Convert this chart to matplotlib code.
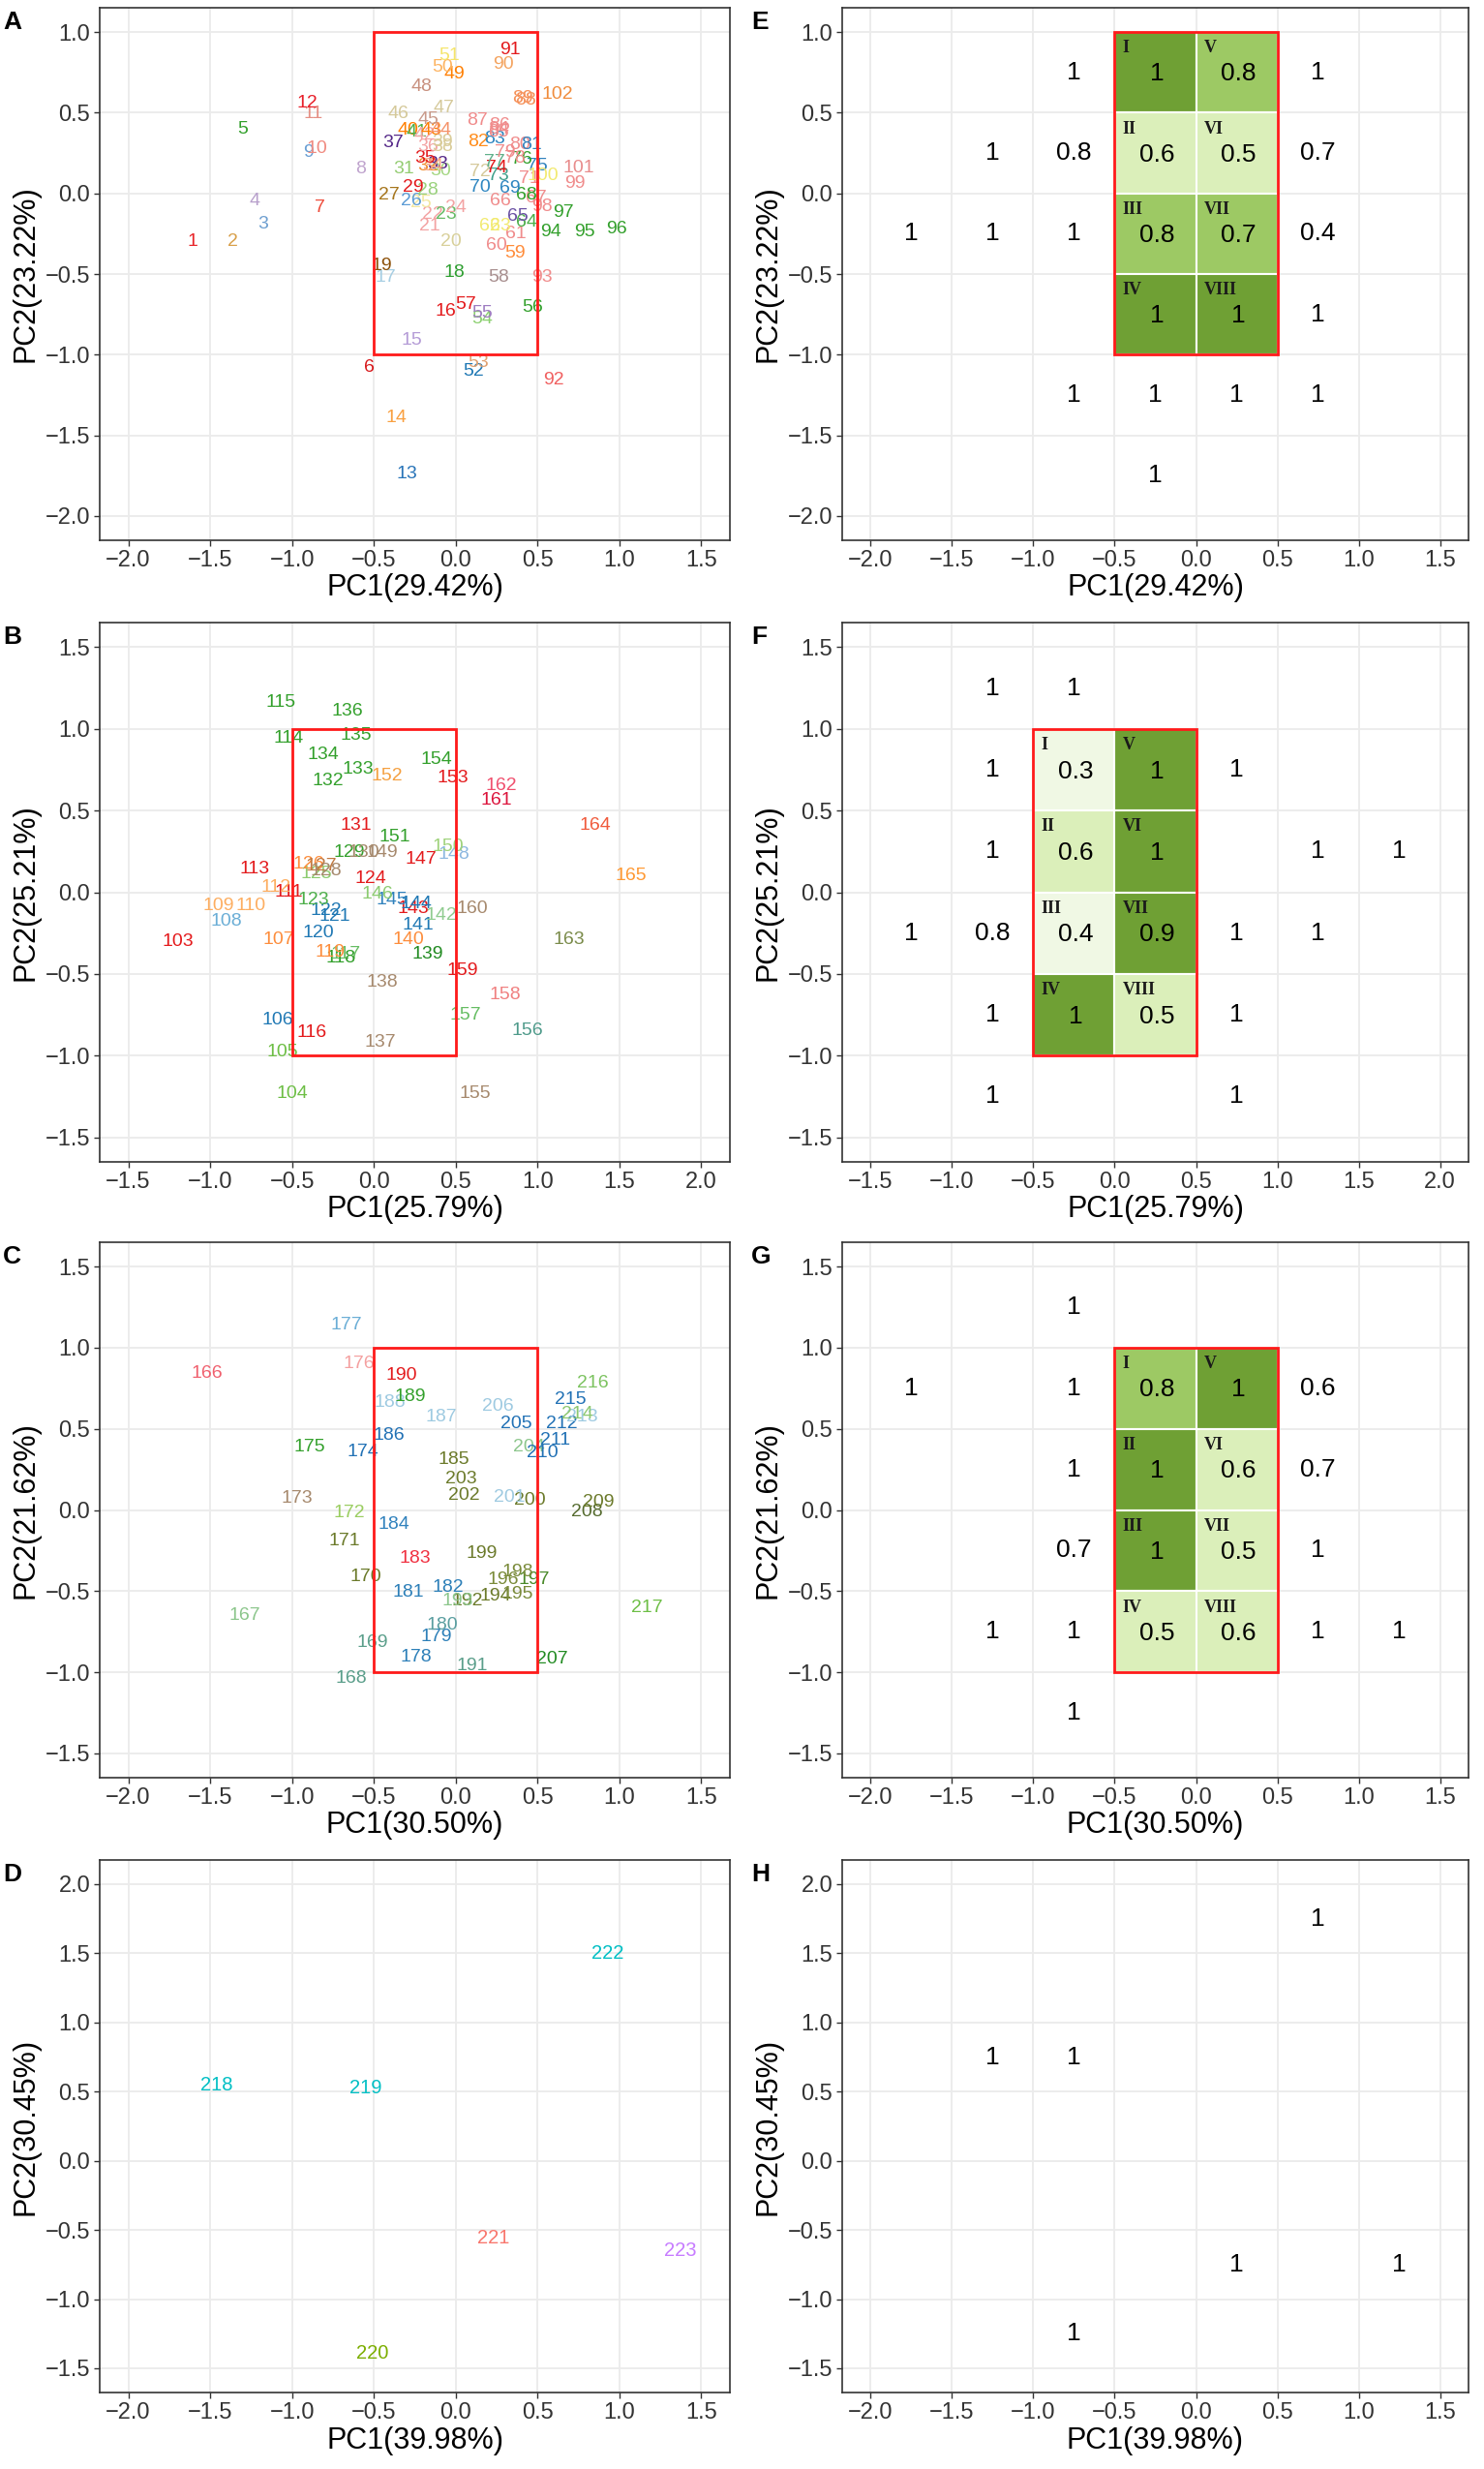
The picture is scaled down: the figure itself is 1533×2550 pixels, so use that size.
import matplotlib
matplotlib.use("Agg")
import matplotlib.pyplot as plt
from matplotlib.patches import Rectangle

plt.rcParams['font.family'] = ['Liberation Sans', 'DejaVu Sans']

# ---------------- data: PCA label positions (left column) ----------------
labels_a = list(range(1, 103))
x_a = [-1.61, -1.36, -1.18, -1.23, -1.30, -0.53, -0.83, -0.58, -0.90, -0.85,
       -0.87, -0.91, -0.30, -0.36, -0.27, -0.06, -0.43, -0.01, -0.45, -0.03,
       -0.16, -0.14, -0.06, 0.00, -0.21, -0.27, -0.41, -0.17, -0.26, -0.09,
       -0.32, -0.17, -0.11, -0.14, -0.19, -0.17, -0.38, -0.08, -0.08, -0.29,
       -0.24, -0.19, -0.15, -0.09, -0.17, -0.35, -0.07, -0.21, -0.01, -0.08,
       -0.04, 0.11, 0.14, 0.16, 0.16, 0.47, 0.06, 0.26, 0.36, 0.25,
       0.37, 0.21, 0.27, 0.43, 0.38, 0.27, 0.49, 0.43, 0.33, 0.15,
       0.45, 0.15, 0.26, 0.25, 0.50, 0.40, 0.24, 0.36, 0.30, 0.39,
       0.46, 0.14, 0.24, 0.26, 0.26, 0.27, 0.13, 0.43, 0.41, 0.29,
       0.33, 0.60, 0.53, 0.58, 0.79, 0.98, 0.66, 0.53, 0.73, 0.53,
       0.75, 0.62]
y_a = [-0.30, -0.30, -0.19, -0.05, 0.40, -1.08, -0.09, 0.15, 0.25, 0.28,
       0.49, 0.56, -1.74, -1.39, -0.91, -0.73, -0.52, -0.49, -0.45, -0.30,
       -0.20, -0.13, -0.13, -0.09, -0.06, -0.05, -0.01, 0.02, 0.04, 0.14,
       0.15, 0.17, 0.18, 0.17, 0.22, 0.29, 0.31, 0.29, 0.32, 0.39,
       0.38, 0.36, 0.39, 0.39, 0.46, 0.49, 0.53, 0.66, 0.74, 0.78,
       0.85, -1.10, -1.05, -0.78, -0.74, -0.71, -0.69, -0.52, -0.37, -0.32,
       -0.25, -0.20, -0.20, -0.18, -0.14, -0.05, -0.03, -0.01, 0.03, 0.04,
       0.09, 0.13, 0.11, 0.16, 0.17, 0.21, 0.19, 0.22, 0.25, 0.30,
       0.30, 0.32, 0.34, 0.40, 0.38, 0.42, 0.45, 0.58, 0.59, 0.80,
       0.89, -1.16, -0.52, -0.24, -0.24, -0.22, -0.12, -0.08, 0.06, 0.11,
       0.16, 0.61]
col_a = ['#E8262A', '#D8A04A', '#6E9FD0', '#B79FCB', '#33A02C', '#D7191C', '#EE4B3A', '#C0A4CE', '#6A9FD4', '#F08A80',
         '#E59085', '#E8202A', '#2874B8', '#F9A040', '#B49BD6', '#E31A1C', '#A6CEE3', '#2E9E30', '#8C510A', '#D8D09A',
         '#F3A3A3', '#F3A3A3', '#66BB66', '#F3A3A3', '#F2E7A0', '#5B9BD5', '#A6761D', '#99D27C', '#E31A1C', '#A5D783',
         '#94CC72', '#F08C2C', '#542788', '#F4A582', '#E31A1C', '#F3A3A3', '#542788', '#D9CC99', '#D9CC99', '#FF7F00',
         '#4DAF4A', '#F3A3A3', '#FF7F00', '#F5936A', '#C8998A', '#D5C99A', '#D5C99A', '#C8907E', '#FF7F00', '#FDB462',
         '#F5E56B', '#1F78B4', '#E0A070', '#8CD070', '#9E7CC1', '#33A02C', '#E31A1C', '#A88F8F', '#FF8C3A', '#F08C8C',
         '#F08C8C', '#F2EA70', '#F2EA70', '#4DAF4A', '#6A51A3', '#F08C8C', '#F08C8C', '#33A02C', '#2E86C1', '#2E86C1',
         '#F08C8C', '#D5C99A', '#3FA08A', '#E31A1C', '#3182BD', '#33A02C', '#5FB08A', '#F08C8C', '#F08C8C', '#F08C8C',
         '#3182BD', '#FF8C1A', '#2E86C1', '#F08C8C', '#F08C8C', '#F08C8C', '#F08C8C', '#F5915A', '#F5915A', '#F4A460',
         '#E31A1C', '#F06060', '#F08C8C', '#33A02C', '#33A02C', '#33A02C', '#33A02C', '#F08C8C', '#F08C8C', '#F2EA70',
         '#E88C8C', '#F08C3C']

labels_b = list(range(103, 166))
x_b = [-1.20, -0.50, -0.56, -0.59, -0.58, -0.90, -0.95, -0.75, -0.52, -0.60,
       -0.73, -0.52, -0.57, -0.38, -0.17, -0.20, -0.27, -0.34, -0.24, -0.29,
       -0.37, -0.02, -0.35, -0.40, -0.32, -0.29, -0.15, -0.06, -0.11, -0.28,
       -0.10, -0.31, -0.11, -0.16, 0.04, 0.05, 0.33, 0.21, 0.27, 0.41,
       0.24, 0.26, 0.11, 0.02, 0.29, 0.49, 0.05, 0.45, 0.13, 0.08,
       0.48, 0.38, 0.62, 0.94, 0.56, 0.80, 0.54, 0.60, 0.75, 0.78,
       1.19, 1.35, 1.57]
y_b = [-0.30, -1.23, -0.98, -0.78, -0.29, -0.18, -0.08, -0.08, 0.00, 0.03,
       0.14, 0.94, 1.16, -0.86, -0.38, -0.40, -0.37, -0.25, -0.15, -0.11,
       -0.05, 0.08, 0.11, 0.17, 0.16, 0.13, 0.24, 0.24, 0.41, 0.68,
       0.75, 0.84, 0.96, 1.11, -0.92, -0.55, -0.38, -0.29, -0.20, -0.14,
       -0.10, -0.07, -0.05, -0.01, 0.20, 0.23, 0.24, 0.28, 0.34, 0.71,
       0.70, 0.81, -1.23, -0.85, -0.75, -0.63, -0.48, -0.10, 0.56, 0.65,
       -0.29, 0.41, 0.10]
col_b = ['#E41A1C', '#6DBE45', '#6DBE45', '#1F78B4', '#FD8D3C', '#6BAED6', '#FDAE61', '#FDAE61', '#E31A1C', '#FDAE61',
         '#E31A1C', '#33A02C', '#33A02C', '#E31A1C', '#66BD63', '#33A02C', '#FD8D3C', '#1F78B4', '#1F78B4', '#1F78B4',
         '#4DAF4A', '#E31A1C', '#8CCB70', '#FD8D3C', '#C07840', '#A6896D', '#33A02C', '#A6896D', '#E31A1C', '#33A02C',
         '#33A02C', '#33A02C', '#33A02C', '#33A02C', '#A6896D', '#A6896D', '#228B22', '#FD8D3C', '#1F78B4', '#90CC90',
         '#E31A1C', '#1F78B4', '#3182BD', '#8CCB70', '#E31A1C', '#8DB8E0', '#A6896D', '#9ED27A', '#33A02C', '#F5A040',
         '#E31A1C', '#33A02C', '#A6896D', '#4E9A8A', '#66BD63', '#F08080', '#E31A1C', '#A6896D', '#DC143C', '#F0506E',
         '#7A8B4A', '#F05A3C', '#FF9933']

labels_c = list(range(166, 218))
x_c = [-1.52, -1.29, -0.64, -0.51, -0.55, -0.68, -0.65, -0.97, -0.57, -0.89,
       -0.59, -0.67, -0.24, -0.12, -0.08, -0.29, -0.05, -0.25, -0.38, -0.01,
       -0.41, -0.09, -0.40, -0.28, -0.33, 0.10, 0.07, 0.01, 0.24, 0.38,
       0.29, 0.48, 0.38, 0.16, 0.45, 0.33, 0.05, 0.03, 0.45, 0.37,
       0.26, 0.59, 0.80, 0.87, 0.53, 0.61, 0.65, 0.77, 0.74, 0.70,
       0.84, 1.17]
y_c = [0.84, -0.65, -1.04, -0.82, -0.41, -0.19, -0.02, 0.07, 0.36, 0.39,
       0.90, 1.14, -0.91, -0.78, -0.71, -0.51, -0.48, -0.30, -0.09, 0.31,
       0.46, 0.57, 0.66, 0.70, 0.83, -0.96, -0.56, -0.56, -0.53, -0.52,
       -0.43, -0.43, -0.38, -0.27, 0.06, 0.08, 0.09, 0.19, 0.39, 0.53,
       0.64, -0.92, -0.01, 0.05, 0.35, 0.43, 0.53, 0.57, 0.59, 0.68,
       0.78, -0.60]
col_c = ['#F0606E', '#8CC68C', '#5A9E8A', '#5A9E8A', '#6B7A2A', '#6B7A2A', '#9ACD60', '#A6896D', '#2171B5', '#33A02C',
         '#F4A0A0', '#6BAED6', '#2C7FB8', '#2C7FB8', '#5A9EA0', '#2C7FB8', '#2C7FB8', '#F03040', '#3182BD', '#6B7A2A',
         '#2171B5', '#9ECAE1', '#9ECAE1', '#33A02C', '#E31A1C', '#5A9E8A', '#6B7A2A', '#8CC68C', '#6B7A2A', '#7A8B3A',
         '#7A8B3A', '#4A8A2A', '#7A8B3A', '#6B7A2A', '#6B7A2A', '#9ECAE1', '#6B7A2A', '#6B7A2A', '#8CC68C', '#2171B5',
         '#9ECAE1', '#228B22', '#556B2F', '#6B7A2A', '#2171B5', '#2171B5', '#2171B5', '#9ECAE1', '#8CC870', '#2171B5',
         '#7CC360', '#6DBE45']

labels_d = [218, 219, 220, 221, 222, 223]
x_d = [-1.46, -0.55, -0.51, 0.23, 0.93, 1.37]
y_d = [0.55, 0.53, -1.39, -0.56, 1.50, -0.65]
col_d = ['#00BFC4', '#00BFC4', '#7CAE00', '#F8766D', '#00BFC4', '#C77CFF']

# ---------------- data: grid values (right column) ----------------
roman = ['I', 'II', 'III', 'IV', 'V', 'VI', 'VII', 'VIII']
box_x = [-0.25, -0.25, -0.25, -0.25, 0.25, 0.25, 0.25, 0.25]
box_y = [0.75, 0.25, -0.25, -0.75, 0.75, 0.25, -0.25, -0.75]
box_e = [1, 0.6, 0.8, 1, 0.8, 0.5, 0.7, 1]
box_f = [0.3, 0.6, 0.4, 1, 1, 1, 0.9, 0.5]
box_g = [0.8, 1, 1, 0.5, 1, 0.6, 0.5, 0.6]

out_e_x = [-0.75, 0.75, -1.25, -0.75, 0.75, -1.75, -1.25, -0.75, 0.75, 0.75, -0.75, -0.25, 0.25, 0.75, -0.25]
out_e_y = [0.75, 0.75, 0.25, 0.25, 0.25, -0.25, -0.25, -0.25, -0.25, -0.75, -1.25, -1.25, -1.25, -1.25, -1.75]
out_e_v = [1, 1, 1, 0.8, 0.7, 1, 1, 1, 0.4, 1, 1, 1, 1, 1, 1]

out_f_x = [-0.75, -0.25, -0.75, 0.75, -0.75, 1.25, 1.75, -1.25, -0.75, 0.75, 1.25, -0.75, 0.75, -0.75, 0.75]
out_f_y = [1.25, 1.25, 0.75, 0.75, 0.25, 0.25, 0.25, -0.25, -0.25, -0.25, -0.25, -0.75, -0.75, -1.25, -1.25]
out_f_v = [1, 1, 1, 1, 1, 1, 1, 1, 0.8, 1, 1, 1, 1, 1, 1]

out_g_x = [-0.75, -1.75, -0.75, 0.75, -0.75, 0.75, -0.75, 0.75, -1.25, -0.75, 0.75, 1.25, -0.75]
out_g_y = [1.25, 0.75, 0.75, 0.75, 0.25, 0.25, -0.25, -0.25, -0.75, -0.75, -0.75, -0.75, -1.25]
out_g_v = [1, 1, 1, 0.6, 1, 0.7, 0.7, 1, 1, 1, 1, 1, 1]

out_h_x = [0.75, -1.25, -0.75, 0.25, 1.25, -0.75]
out_h_y = [1.75, 0.75, 0.75, -0.75, -0.75, -1.25]
out_h_v = [1, 1, 1, 1, 1, 1]

xlab = ['PC1(29.42%)', 'PC1(25.79%)', 'PC1(30.50%)', 'PC1(39.98%)']
ylab = ['PC2(23.22%)', 'PC2(25.21%)', 'PC2(21.62%)', 'PC2(30.45%)']
xlims = [(-2, 1.5), (-1.5, 2.0), (-2, 1.5), (-2, 1.5)]
ylims = [(-2, 1), (-1.5, 1.5), (-1.5, 1.5), (-1.5, 2.0)]

# ---------------- layout ----------------
W, H = 1533, 2550
fig = plt.figure(figsize=(W / 100, H / 100), dpi=100)
rows = [(8, 558), (643, 1200), (1283, 1836), (1921, 2471)]
cols = [(103, 651), (870, 647)]


def fill_for(v):
    if v >= 0.9:
        return '#6FA034'
    if v >= 0.7:
        return '#9DC964'
    if v >= 0.5:
        return '#DBEFBA'
    return '#F0F8E4'


def style(ax, i):
    lo, hi = xlims[i]
    e = (hi - lo) * 0.05
    ax.set_xlim(lo - e, hi + e)
    lo2, hi2 = ylims[i]
    e2 = (hi2 - lo2) * 0.05
    ax.set_ylim(lo2 - e2, hi2 + e2)
    xt = [lo + 0.5 * k for k in range(int(round((hi - lo) / 0.5)) + 1)]
    yt = [lo2 + 0.5 * k for k in range(int(round((hi2 - lo2) / 0.5)) + 1)]
    ax.set_xticks(xt)
    ax.set_yticks(yt)
    ax.set_xticklabels([f'{t:.1f}'.replace('-', '\u2212') for t in xt])
    ax.set_yticklabels([f'{t:.1f}'.replace('-', '\u2212') for t in yt])
    ax.grid(True, color='#EBEBEB', linewidth=1.3)
    ax.set_axisbelow(True)
    for s in ax.spines.values():
        s.set_color('#333333')
        s.set_linewidth(1.2)
    ax.tick_params(direction='out', length=4, width=1, color='#333333',
                   labelsize=17, labelcolor='#333333', pad=3)
    ax.set_xlabel(xlab[i], fontsize=22, labelpad=2)
    ax.set_ylabel(ylab[i], fontsize=22, labelpad=4)


def add_box(ax):
    ax.add_patch(Rectangle((-0.5, -1.0), 1.0, 2.0, fill=False,
                           edgecolor='#FF1A1A', linewidth=2, zorder=5))


left_data = [(labels_a, x_a, y_a, col_a), (labels_b, x_b, y_b, col_b),
             (labels_c, x_c, y_c, col_c), (labels_d, x_d, y_d, col_d)]
box_vals = [box_e, box_f, box_g, None]
outs = [(out_e_x, out_e_y, out_e_v), (out_f_x, out_f_y, out_f_v),
        (out_g_x, out_g_y, out_g_v), (out_h_x, out_h_y, out_h_v)]
letters_l = ['A', 'B', 'C', 'D']
letters_r = ['E', 'F', 'G', 'H']

for i, (top, bot) in enumerate(rows):
    # left: labelled PCA scatter
    x0, w = cols[0]
    ax = fig.add_axes([x0 / W, 1 - bot / H, w / W, (bot - top) / H])
    style(ax, i)
    labs, xs, ys, cs = left_data[i]
    fs = 14.5 if i == 3 else 14
    for lab, xv, yv, c in zip(labs, xs, ys, cs):
        ax.text(xv, yv, str(lab), color=c, fontsize=fs, ha='center', va='center', zorder=4)
    if i < 3:
        add_box(ax)
    fig.text(3 / W, 1 - (top + 3) / H, letters_l[i], fontsize=19, fontweight='bold', ha='left', va='top')

    # right: proportion grid
    x0, w = cols[1]
    ax = fig.add_axes([x0 / W, 1 - bot / H, w / W, (bot - top) / H])
    style(ax, i)
    if box_vals[i] is not None:
        for r, bx, by, v in zip(roman, box_x, box_y, box_vals[i]):
            ax.add_patch(Rectangle((bx - 0.25, by - 0.25), 0.5, 0.5, facecolor=fill_for(v),
                                   edgecolor='white', linewidth=1.5, zorder=2))
            ax.text(bx + 0.01, by - 0.01, f'{v:g}', fontsize=19, ha='center', va='center', zorder=4)
            ax.text(bx - 0.20, by + 0.15, r, fontsize=13, fontweight='bold',
                    family=['Liberation Serif', 'DejaVu Serif'], ha='left', va='center',
                    color='#1A1A1A', zorder=4)
        add_box(ax)
    ox, oy, ov = outs[i]
    for xv, yv, v in zip(ox, oy, ov):
        ax.text(xv, yv, f'{v:g}', fontsize=19, ha='center', va='center', zorder=4)
    fig.text(776 / W, 1 - (top + 3) / H, letters_r[i], fontsize=19, fontweight='bold', ha='left', va='top')

fig.savefig('out.png', dpi=100)
